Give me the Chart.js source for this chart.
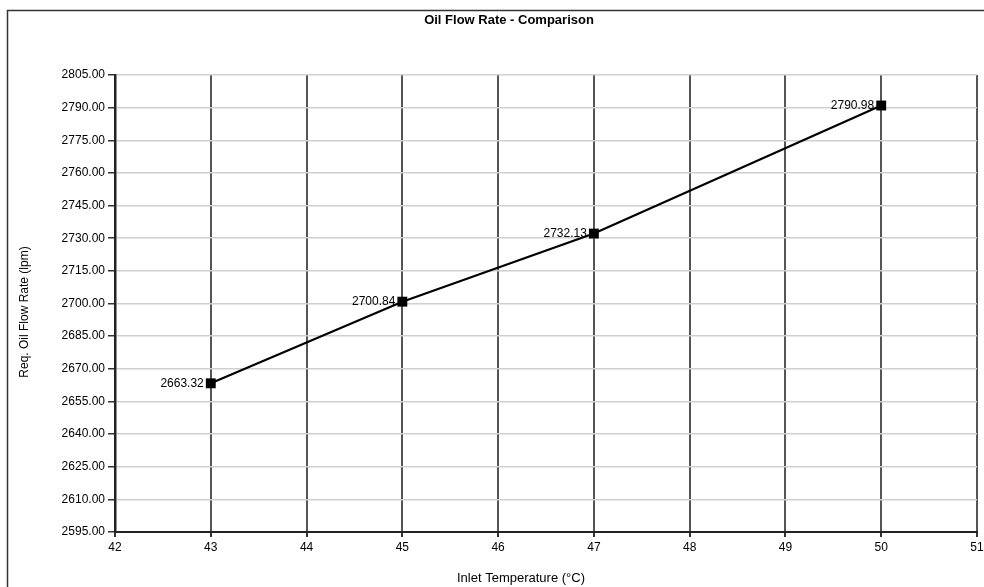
<!DOCTYPE html>
<html>
<head>
<meta charset="utf-8">
<script src="https://cdn.jsdelivr.net/npm/chart.js@4"></script>
<style>
  html, body { margin: 0; padding: 0; background: #fff; }
  #wrap { position: relative; width: 984px; height: 587px; }
</style>
</head>
<body>
<div id="wrap"><canvas id="myChart"></canvas></div>
<script>
// chart values
var temps = [43, 45, 47, 50];
var flowRates = [2663.32, 2700.84, 2732.13, 2790.98];
var chartTitle = 'Oil Flow Rate - Comparison';
var xTitle = 'Inlet Temperature (\u00B0C)';
var yTitle = 'Req. Oil Flow Rate (lpm)';

var points = temps.map(function (t, i) { return { x: t, y: flowRates[i] }; });

/* frame, titles and point labels drawn on the canvas */
var decorPlugin = {
  id: 'decor',
  beforeDraw: function (chart) {
    var c = chart.ctx;
    c.save();
    c.strokeStyle = '#333';
    c.lineWidth = 1.5;
    c.beginPath();
    c.moveTo(7.5, 600);
    c.lineTo(7.5, 10.5);
    c.lineTo(990, 10.5);
    c.stroke();
    c.restore();
  },
  afterDraw: function (chart) {
    var c = chart.ctx;
    c.save();
    c.fillStyle = '#000';
    c.textBaseline = 'middle';
    c.textAlign = 'center';
    c.font = 'bold 13px "Liberation Sans", Arial, sans-serif';
    c.fillText(chartTitle, 509, 20);
    c.font = '13px "Liberation Sans", Arial, sans-serif';
    c.fillText(xTitle, 521, 578);
    c.save();
    c.translate(25, 312);
    c.rotate(-Math.PI / 2);
    c.font = '12px "Liberation Sans", Arial, sans-serif';
    c.fillText(yTitle, 0, 0);
    c.restore();
    // value labels left of each marker
    var meta = chart.getDatasetMeta(0);
    c.textAlign = 'right';
    c.font = '12px "Liberation Sans", Arial, sans-serif';
    meta.data.forEach(function (pt, i) {
      c.fillText(flowRates[i].toFixed(2), pt.x - 7, pt.y);
    });
    c.restore();
  }
};

const config = {
  type: 'line',
  data: {
    datasets: [{
      data: points,
      borderColor: '#000',
      backgroundColor: '#000',
      borderWidth: 2.2,
      pointStyle: 'rect',
      pointRadius: 7,
      pointBorderWidth: 0,
      pointHoverRadius: 7,
      tension: 0,
      fill: false
    }]
  },
  options: {
    responsive: true,
    maintainAspectRatio: false,
    animation: false,
    layout: {
      padding: { top: 75, right: 7, bottom: 0, left: 0 }
    },
    scales: {
      x: {
        type: 'linear',
        min: 42,
        max: 51,
        afterFit: function (s) { s.height = 55; s.paddingRight = 0; },
        ticks: {
          stepSize: 1,
          padding: 3,
          color: '#000',
          font: { size: 12, family: '"Liberation Sans", Arial, sans-serif' }
        },
        grid: {
          color: '#555',
          lineWidth: 2,
          tickLength: 5,
          tickColor: '#333'
        },
        border: { color: '#222', width: 2 }
      },
      y: {
        min: 2595,
        max: 2805,
        afterFit: function (s) { s.width = 115; },
        ticks: {
          stepSize: 15,
          padding: 3,
          color: '#000',
          font: { size: 12, family: '"Liberation Sans", Arial, sans-serif' },
          callback: function (v) { return v.toFixed(2); }
        },
        grid: {
          color: '#cfcfcf',
          lineWidth: 1.5,
          tickLength: 7,
          tickColor: '#333'
        },
        border: { color: '#222', width: 2.5 }
      }
    },
    plugins: {
      legend: { display: false },
      title: { display: false },
      tooltip: { enabled: false }
    }
  },
  plugins: [decorPlugin]
};

var myChart = new Chart(document.getElementById('myChart'), config);
</script>
</body>
</html>
